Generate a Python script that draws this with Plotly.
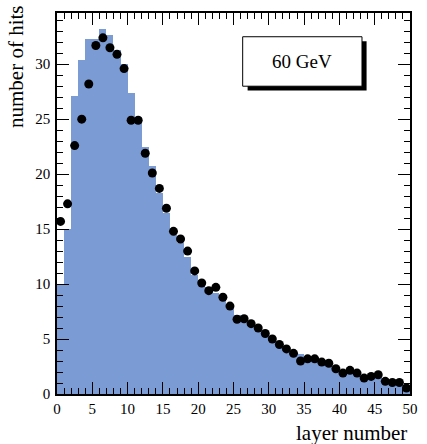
import plotly.graph_objects as go

# bin lower edges (layer number), bin width 1
layers = list(range(50))

# simulated histogram (blue filled)
hist_hits = [10.0, 15.0, 27.1, 30.4, 32.3, 32.3, 33.2, 32.7, 31.3, 30.0,
             27.4, 25.2, 22.5, 20.7, 18.3, 16.5, 14.5, 13.7, 12.5, 10.8,
             10.4, 9.7, 9.2, 8.75, 8.0, 7.2, 6.9, 6.4, 6.0, 5.5,
             5.0, 4.5, 4.1, 3.7, 3.6, 3.0, 3.0, 2.9, 2.7, 2.3,
             2.0, 1.9, 1.8, 1.6, 1.6, 1.6, 1.2, 1.0, 1.0, 0.7]

# measured data points (black circles)
data_hits = [15.7, 17.3, 22.6, 25.0, 28.2, 31.7, 32.4, 31.5, 30.9, 29.6,
             24.9, 24.9, 21.9, 20.1, 18.7, 16.9, 14.8, 14.1, 13.0, 11.2,
             10.1, 9.4, 9.7, 8.8, 8.0, 6.8, 6.85, 6.4, 6.0, 5.5,
             5.0, 4.5, 4.1, 3.7, 3.0, 3.2, 3.2, 2.9, 2.8, 2.3,
             1.9, 2.15, 1.9, 1.45, 1.6, 1.75, 1.15, 1.05, 1.05, 0.55]

label_text = "60 GeV"
x_title = "layer number"
y_title = "number of hits"

centers = [l + 0.5 for l in layers]
FONT = "Liberation Serif"

fig = go.Figure()
fig.add_trace(go.Bar(x=centers, y=hist_hits, width=1.0,
                     marker=dict(color="#7b9bd4", line=dict(width=0)),
                     showlegend=False, hoverinfo="skip"))
fig.add_trace(go.Scatter(x=centers, y=data_hits, mode="markers",
                         marker=dict(color="black", size=9, symbol="circle"),
                         showlegend=False))

axis_common = dict(showline=True, linecolor="black", linewidth=1.6,
                   mirror="allticks", ticks="inside", ticklen=12, tickwidth=1.2,
                   tickcolor="black", showgrid=False, zeroline=False,
                   tickfont=dict(family=FONT, size=15, color="black"))

fig.update_xaxes(range=[0, 50], dtick=5, tick0=0,
                 minor=dict(ticks="inside", dtick=1, ticklen=6, tickwidth=1, tickcolor="black"),
                 ticklabelstandoff=0,
                 **axis_common)
fig.update_yaxes(range=[0, 34.66], dtick=5, tick0=0,
                 minor=dict(ticks="inside", dtick=1, ticklen=6, tickwidth=1, tickcolor="black"),
                 ticklabelstandoff=2,
                 **axis_common)

# text box with shadow
fig.add_shape(type="rect", xref="x", yref="y", x0=27.0, x1=43.85, y0=27.6, y1=32.1,
              fillcolor="black", line=dict(width=0), layer="above")
fig.add_shape(type="rect", xref="x", yref="y", x0=26.3, x1=43.2, y0=28.0, y1=32.5,
              fillcolor="white", line=dict(color="black", width=1), layer="above")
fig.add_annotation(x=34.75, y=30.25, xref="x", yref="y", text=label_text,
                   showarrow=False, font=dict(family=FONT, size=19, color="black"))

# axis titles (ROOT style, at the axis ends)
fig.add_annotation(x=1.0, y=0, xref="paper", yref="paper", xanchor="right", yanchor="top",
                   yshift=-25, xshift=-1, text=x_title, showarrow=False,
                   font=dict(family=FONT, size=21, color="black"))
fig.add_annotation(x=0, y=1.0, xref="paper", yref="paper", xanchor="right", yanchor="top",
                   xshift=-27, yshift=9, text=y_title, textangle=-90, showarrow=False,
                   font=dict(family=FONT, size=21, color="black"))

fig.update_layout(width=427, height=444, bargap=0,
                  margin=dict(l=57, r=9, t=13, b=50),
                  plot_bgcolor="white", paper_bgcolor="white")

fig.write_html("out.html")
